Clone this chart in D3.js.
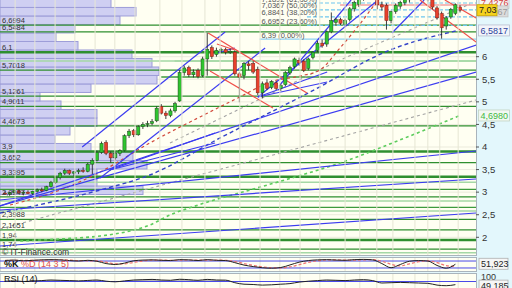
<!DOCTYPE html>
<html>
<head>
<meta charset="utf-8">
<script src="https://cdn.jsdelivr.net/npm/d3@7"></script>
<style>
  body { margin: 0; background: #e3f7fc; }
  svg { display: block; }
  text { font-family: "Liberation Sans", Arial, sans-serif; }
</style>
</head>
<body>
<div id="chart"></div>
<script>
// weekly candles, oldest first
const candleOpen = [2.98,2.96,2.99,3.03,2.98,3.00,2.97,3.02,3.05,3.04,
  3.12,3.22,3.32,3.42,3.48,3.42,3.45,3.48,3.46,3.62,
  3.70,3.88,4.10,3.86,3.76,3.86,3.92,4.25,4.36,4.27,
  4.45,4.50,4.52,4.58,4.90,4.75,4.70,4.80,5.02,5.65,
  5.76,5.60,5.70,5.58,5.95,6.20,6.05,6.14,6.16,6.10,
  6.10,5.62,5.58,5.84,5.85,5.72,5.20,5.42,5.32,5.42,
  5.30,5.38,5.64,5.78,5.92,5.90,5.74,5.98,6.14,6.30,
  6.28,6.55,6.76,6.82,6.72,6.82,7.06,7.16,7.28,7.38,
  7.46,7.30,7.15,7.14,6.80,7.00,7.12,7.20,7.26,7.32,
  7.42,7.36,7.32,7.26,7.08,6.96,6.68,6.88,6.96,7.10];
const candleHigh = [3.02,3.00,3.05,3.06,3.02,3.04,3.03,3.08,3.10,3.14,
  3.25,3.35,3.45,3.52,3.50,3.47,3.52,3.55,3.65,3.75,
  3.92,4.12,4.15,3.90,3.90,3.95,4.28,4.40,4.40,4.48,
  4.55,4.58,4.62,4.90,4.95,4.80,4.85,5.00,5.70,5.80,
  5.80,5.72,5.74,6.00,6.53,6.25,6.20,6.20,6.20,6.18,
  6.14,5.66,5.88,5.90,5.90,5.78,5.45,5.50,5.48,5.46,
  5.40,5.68,5.80,5.98,5.98,5.94,5.98,6.12,6.35,6.38,
  6.58,6.98,6.86,6.86,6.84,7.10,7.24,7.30,7.42,7.52,
  7.50,7.34,7.22,7.18,7.02,7.18,7.24,7.34,7.40,7.50,
  7.48,7.42,7.38,7.30,7.12,7.00,6.90,7.08,7.18,7.14];
const candleLow = [2.94,2.92,2.95,2.97,2.93,2.96,2.94,2.99,3.00,3.02,
  3.10,3.18,3.28,3.38,3.38,3.36,3.40,3.43,3.44,3.40,
  3.68,3.85,3.82,3.65,3.72,3.80,3.90,4.20,4.22,4.25,
  4.40,4.44,4.48,4.55,4.72,4.62,4.66,4.76,5.00,5.58,
  5.55,5.54,5.52,5.55,5.58,5.95,6.00,6.08,6.05,6.06,
  5.58,4.99,5.50,5.70,5.62,5.15,5.08,5.26,5.28,5.26,
  5.24,5.35,5.60,5.74,5.80,5.66,5.70,5.94,6.10,6.20,
  6.22,6.52,6.70,6.70,6.68,6.78,7.00,7.10,7.24,7.30,
  7.30,7.05,7.02,6.60,6.74,6.95,7.06,7.14,7.20,7.26,
  7.30,7.28,7.22,7.05,6.82,6.40,6.60,6.84,6.92,6.98];
const candleClose = [2.96,2.99,3.03,2.98,3.00,2.97,3.02,3.05,3.04,3.12,
  3.22,3.32,3.42,3.48,3.42,3.45,3.48,3.46,3.62,3.70,
  3.88,4.08,3.86,3.76,3.86,3.92,4.25,4.35,4.27,4.45,
  4.50,4.52,4.56,4.86,4.75,4.70,4.80,4.96,5.65,5.75,
  5.60,5.66,5.56,5.95,6.16,6.00,6.14,6.16,6.10,6.12,
  5.62,5.55,5.85,5.80,5.66,5.20,5.40,5.30,5.45,5.30,
  5.36,5.65,5.76,5.95,5.86,5.70,5.95,6.10,6.30,6.24,
  6.55,6.80,6.82,6.74,6.80,7.06,7.20,7.26,7.38,7.46,
  7.34,7.15,7.10,6.80,7.00,7.14,7.20,7.30,7.36,7.44,
  7.36,7.32,7.26,7.10,6.86,6.64,6.86,7.05,7.15,7.03];

// volume-at-price profile, bins from the bottom up
const vpEdges = [2.948,3.136,3.325,3.513,3.701,3.890,4.078,4.266,4.454,4.643,4.831,5.019,
  5.208,5.396,5.584,5.772,5.961,6.149,6.337,6.526,6.714,6.902,7.091,7.279];
const vpVolume = [143,97,97,147,133,91,55,70,97,97,61,40,91,157,159,152,132,78,56,75,120,136,111];

// support / resistance levels
const levelPrices = [6.6994,6.5484,6.1,5.7018,5.1261,4.9011,4.4673,3.9,3.652,3.3395,2.8947,2.3988,2.1651,1.94,1.74];
const levelThick = [6.1,3.9,3.3395,1.94];
const lightLevels = [5.905,3.218,2.804,2.582,1.659];
const midLevels = [3.063,2.664];
const partialLevels = [[34.0,5.550],[36.9,5.905]]; // [start index, price]

// fibonacci retracement
const fibLevels = [6.39,6.6952,6.8841,7.0367,7.1892];
const fibPct = ["0,00%","23,60%","38,20%","50,00%","61,80%"];

// trend lines [i0, p0, i1, p1]
const blueLines = [
  [-1.1,2.826,102.5,3.912],[-1.1,2.605,102.5,3.291],[-1.1,1.807,102.5,2.538],
  [-1.1,2.693,102.5,5.661],[-1.1,2.693,102.5,6.259],
  [16.8,4.000,47.9,6.547],[20.7,3.314,56.6,6.193],
  [59.8,5.373,75.3,7.256],[55.0,5.108,81.2,7.256],
  [55.0,5.108,70.1,5.661],[55.0,5.108,70.1,5.440],
  [84.2,6.525,91.2,7.256],
  [22.8,3.491,45.7,4.310],[22.8,3.491,45.7,4.089],
  [46.1,6.082,50.0,6.193]];
const redLines = [
  [44.2,6.525,65.7,5.196],[44.6,5.683,58.3,4.864],[46.1,6.281,50.0,6.149],
  [90.3,7.256,102.5,6.326],[95.7,7.256,102.5,6.857]];
const pinkLine = [72.9,7.145,102.5,7.145];

// moving averages / dashed guides [index, price]
const maGreen = [[3.3,1.918],[12.0,1.963],[20.7,2.029],[27.2,2.140],[31.5,2.273],[35.9,2.494],
  [42.4,2.727],[53.3,3.048],[64.2,3.369],[72.9,3.646],[85.9,4.155],[99,4.698]];
const maRed = [[1.1,2.716],[12.0,3.048],[20.7,3.446],[31.5,4.089],[42.4,4.665],[51.1,5.108],
  [57.7,5.440],[64.2,5.573],[68.5,5.706],[72.9,6.193],[77.9,6.813],[81.2,7.256],[82.7,7.433],[90.3,7.477],[99,7.4276]];
const maBlue = [[-1.1,2.538],[20.7,3.048],[31.5,3.380],[46.8,4.200],[66.4,5.218],[83.8,6.149],[98.6,6.5817]];
const grayGuides = [
  [[-1.1,2.184],[102.5,5.041]],
  [[35.9,4.089],[72.9,5.927],[94.6,6.879],[101.2,7.167]]];

// oscillators, one value every second candle
const stochK = [85,88,82,86,90,92,90,84,80,86,78,58,50,62,82,88,90,86,84,92,90,84,92,86,84,
  66,45,32,22,18,24,46,70,84,90,92,88,86,92,94,90,58,22,50,78,84,80,42,18,52];
const stochD = [84,86,85,85,87,90,91,88,83,82,81,70,56,56,68,80,88,88,86,87,89,88,88,88,86,
  76,58,42,30,22,20,30,48,68,82,89,90,88,88,90,92,78,52,38,56,74,82,66,40,34];
const rsi = [72,74,70,73,76,80,78,76,74,77,80,72,68,74,80,82,84,80,78,85,82,78,84,80,79,
  62,52,50,46,48,52,56,66,72,76,80,78,76,80,82,76,60,62,64,62,60,58,46,42,49];

const yTicks = [2,2.5,3,3.5,4,4.5,5,5.5,6];
const gridIdx = [2.2,6.5,10.9,15.2,19.6,23.9,28.3,33.7,38.5,43.5,46.8,51.1,55.5,59.8,64.2,68.5,74.0,77.2,80.9,84.4,89.2,92.0,94.6,98.6];

const lastClose = 7.03, lastStoch = 51.923, lastRsi = 49.185, redTag = 7.4276;

const W = 512, H = 288, plotR = 476, mainB = 255;
const fmt = v => String(v).replace('.', ',');

const x = d3.scaleLinear().domain([0, 99]).range([5, 460]);
const y = d3.scaleLinear().domain([2, 6]).range([237.3, 56.7]);
const xv = d3.scaleLinear().domain([0, d3.max(vpVolume)]).range([0, 159]);
const ys = d3.scaleLinear().domain([0, 100]).range([270.3, 258.7]);
const yr = d3.scaleLinear().domain([0, 100]).range([292, 277]);

const svg = d3.select('#chart').append('svg').attr('width', W).attr('height', H);

svg.append('defs').append('clipPath').attr('id', 'mainClip')
  .append('rect').attr('x', 0).attr('y', 0).attr('width', plotR).attr('height', mainB);

// panels
svg.append('rect').attr('x', 0).attr('y', -1).attr('width', plotR + 0.5).attr('height', mainB + 1.5)
  .attr('fill', '#fffff2').attr('stroke', '#a9b4bc');
svg.append('rect').attr('x', 0).attr('y', 257.5).attr('width', plotR + 0.5).attr('height', 14)
  .attr('fill', '#fffff2').attr('stroke', '#a9b4bc');
svg.append('rect').attr('x', 0).attr('y', 273.5).attr('width', plotR + 0.5).attr('height', 30)
  .attr('fill', '#fffff2').attr('stroke', '#a9b4bc');

const main = svg.append('g').attr('clip-path', 'url(#mainClip)');

// grid
main.append('g').selectAll('line').data(yTicks).join('line')
  .attr('x1', 0).attr('x2', plotR).attr('y1', d => y(d)).attr('y2', d => y(d))
  .attr('stroke', '#ebebdc').attr('stroke-width', 1);
[[0, mainB], [258, 271], [274, 288]].forEach(([a, b]) => {
  svg.append('g').selectAll('line').data(gridIdx).join('line')
    .attr('x1', d => x(d)).attr('x2', d => x(d)).attr('y1', a).attr('y2', b)
    .attr('stroke', '#e6e6d4').attr('stroke-width', 1);
});

// volume profile
main.append('g').selectAll('rect').data(vpVolume).join('rect')
  .attr('x', 0)
  .attr('y', (d, i) => y(vpEdges[i + 1]))
  .attr('width', d => xv(d))
  .attr('height', (d, i) => y(vpEdges[i]) - y(vpEdges[i + 1]))
  .attr('fill', '#cacaf2').attr('fill-opacity', 0.9)
  .attr('stroke', '#9d9dd8').attr('stroke-width', 1);

// horizontal levels
const hline = (g, data, color, width) => g.append('g').selectAll('line').data(data).join('line')
  .attr('x1', 0).attr('x2', plotR).attr('y1', d => y(d)).attr('y2', d => y(d))
  .attr('stroke', color).attr('stroke-width', width);
hline(main, lightLevels, '#a5d8a5', 1.6);
hline(main, midLevels, '#3d9a3d', 1.2);
main.append('g').selectAll('line').data(partialLevels).join('line')
  .attr('x1', d => x(d[0])).attr('x2', plotR).attr('y1', d => y(d[1])).attr('y2', d => y(d[1]))
  .attr('stroke', (d, i) => i === 0 ? '#3d9a3d' : '#a5d8a5').attr('stroke-width', 1.3);
main.append('g').selectAll('line').data(levelPrices).join('line')
  .attr('x1', 0).attr('x2', plotR).attr('y1', d => y(d)).attr('y2', d => y(d))
  .attr('stroke', '#2f8f2f')
  .attr('stroke-width', d => levelThick.includes(d) ? 2.4 : 1.3);

// fibonacci lines
main.append('g').selectAll('line').data(fibLevels).join('line')
  .attr('x1', (d, i) => i === 0 ? x(55.4) : x(65.7)).attr('x2', plotR)
  .attr('y1', d => y(d)).attr('y2', d => y(d))
  .attr('stroke', (d, i) => i === 0 ? '#8fd0f2' : '#6cc6ee')
  .attr('stroke-width', 1.2)
  .attr('stroke-dasharray', (d, i) => i === 0 ? null : '4,2');
main.append('line')
  .attr('x1', x(pinkLine[0])).attr('x2', x(pinkLine[2]))
  .attr('y1', y(pinkLine[1])).attr('y2', y(pinkLine[3]))
  .attr('stroke', '#f4a2a2').attr('stroke-width', 1.6);

// dashed guides
const line = d3.line().x(d => x(d[0])).y(d => y(d[1]));
const curve = d3.line().x(d => x(d[0])).y(d => y(d[1])).curve(d3.curveMonotoneX);
grayGuides.forEach(g => main.append('path').attr('d', line(g)).attr('fill', 'none')
  .attr('stroke', '#a3a3a3').attr('stroke-width', 1.1).attr('stroke-dasharray', '3,3'));
main.append('path').attr('d', curve(maGreen)).attr('fill', 'none')
  .attr('stroke', '#5ccc5c').attr('stroke-width', 1.6).attr('stroke-dasharray', '3,3');
main.append('path').attr('d', curve(maRed)).attr('fill', 'none')
  .attr('stroke', '#d24a3c').attr('stroke-width', 1.2).attr('stroke-dasharray', '3,3');
main.append('path').attr('d', curve(maBlue)).attr('fill', 'none')
  .attr('stroke', '#3343c8').attr('stroke-width', 1.4).attr('stroke-dasharray', '4,3');

// trend lines
const seg = (g, data, color, w) => g.append('g').selectAll('line').data(data).join('line')
  .attr('x1', d => x(d[0])).attr('y1', d => y(d[1]))
  .attr('x2', d => x(d[2])).attr('y2', d => y(d[3]))
  .attr('stroke', color).attr('stroke-width', w);
seg(main, blueLines, '#3c3cf0', 1.2);
seg(main, redLines, '#f0504a', 1.2);

// candles
const candles = d3.range(candleClose.length);
const cg = main.append('g');
cg.selectAll('line').data(candles).join('line')
  .attr('x1', i => x(i)).attr('x2', i => x(i))
  .attr('y1', i => y(candleHigh[i])).attr('y2', i => y(candleLow[i]))
  .attr('stroke', '#2a2a2a').attr('stroke-width', 0.9);
cg.selectAll('rect').data(candles).join('rect')
  .attr('x', i => x(i) - 1.6).attr('width', 3.2)
  .attr('y', i => y(Math.max(candleOpen[i], candleClose[i])))
  .attr('height', i => Math.max(1, Math.abs(y(candleOpen[i]) - y(candleClose[i]))))
  .attr('fill', i => candleClose[i] >= candleOpen[i] ? '#2fc42f' : '#e8402c')
  .attr('stroke', i => candleClose[i] >= candleOpen[i] ? '#1c4a1c' : '#7a2016')
  .attr('stroke-width', 0.5);

// level labels
main.append('g').selectAll('text').data(levelPrices).join('text')
  .attr('x', 2).attr('y', d => y(d) - 2.3)
  .attr('font-size', 7.5).attr('fill', '#333').text(d => fmt(d));
main.append('g').selectAll('text').data(fibLevels).join('text')
  .attr('x', x(55.8)).attr('y', d => y(d) - 1.5)
  .attr('font-size', 7.5).attr('fill', '#555')
  .text((d, i) => `${fmt(d)} (${fibPct[i]})`);

svg.append('text').attr('x', 2).attr('y', 254.5).attr('font-size', 8.5).attr('fill', '#333')
  .text('© IT-Finance.com');

// right axis
const ax = svg.append('g');
ax.selectAll('line').data(yTicks).join('line')
  .attr('x1', plotR).attr('x2', plotR + 3).attr('y1', d => y(d)).attr('y2', d => y(d))
  .attr('stroke', '#555');
ax.selectAll('text').data(yTicks).join('text')
  .attr('x', plotR + 6).attr('y', d => y(d)).attr('dy', '0.35em')
  .attr('font-size', 9.5).attr('fill', '#333').text(d => fmt(d));

const tag = (yc, label, bg, fg, border, w, x0) => {
  const g = svg.append('g');
  g.append('rect').attr('x', x0).attr('y', yc - 5.5).attr('width', w).attr('height', 11)
    .attr('fill', bg).attr('stroke', border).attr('stroke-width', 0.8);
  g.append('text').attr('x', x0 + 2).attr('y', yc).attr('dy', '0.36em')
    .attr('font-size', 9).attr('fill', fg).text(label);
};
tag(Math.max(y(redTag), 3), fmt(redTag), '#f4f4f4', '#d63a3a', '#c8c8c8', 30, 479);
tag(y(fibLevels[3]) + 1.5, fmt(fibLevels[3]), '#dcdcdc', '#9a9a9a', '#c0c0c0', 30, 478);
tag(y(lastClose), fmt(lastClose), '#f5d21c', '#222', '#c9a800', 20, 477);
tag(y(6.5817), fmt(6.5817), '#f2f4fa', '#2d3f9c', '#b8bfd0', 31, 478.5);
tag(y(maGreen[maGreen.length - 1][1]), '4,6980', '#f2f8f2', '#43b843', '#c2d4c2', 31, 478.5);

// stochastic panel
const sx = (d, i) => x(i * 2);
svg.append('g').selectAll('line').data([20, 80]).join('line')
  .attr('x1', 0).attr('x2', plotR).attr('y1', d => ys(d)).attr('y2', d => ys(d))
  .attr('stroke', '#4a4ae8').attr('stroke-width', 1);
svg.append('path').attr('d', d3.line().x(sx).y(d => ys(d)).curve(d3.curveMonotoneX)(stochD))
  .attr('fill', 'none').attr('stroke', '#f07070').attr('stroke-width', 1.2).attr('stroke-dasharray', '3,2');
svg.append('path').attr('d', d3.line().x(sx).y(d => ys(d)).curve(d3.curveMonotoneX)(stochK))
  .attr('fill', 'none').attr('stroke', '#222').attr('stroke-width', 1);
const st = svg.append('text').attr('x', 4).attr('y', 266.5).attr('font-size', 9);
st.append('tspan').attr('fill', '#111').attr('font-weight', 'bold').text('%K ');
st.append('tspan').attr('fill', '#e05050').text('%D (14 3 5)');
tag(ys(lastStoch) - 0.5, fmt(lastStoch), '#f6f6f6', '#222', '#b0b0b0', 29, 479);

// RSI panel
svg.append('path')
  .attr('d', d3.area().x(sx).y0(yr(70)).y1(d => yr(Math.max(d, 70))).curve(d3.curveMonotoneX)(rsi))
  .attr('fill', '#9a9a9a').attr('fill-opacity', 0.7);
svg.append('line').attr('x1', 0).attr('x2', plotR).attr('y1', yr(70)).attr('y2', yr(70))
  .attr('stroke', '#4a4ae8').attr('stroke-width', 1);
svg.append('path').attr('d', d3.line().x(sx).y(d => yr(d)).curve(d3.curveMonotoneX)(rsi))
  .attr('fill', 'none').attr('stroke', '#222').attr('stroke-width', 1);
svg.append('text').attr('x', 4).attr('y', 282).attr('font-size', 9).attr('fill', '#111').text('RSI (14)');
svg.append('text').attr('x', plotR + 5).attr('y', yr(100)).attr('dy', '0.35em')
  .attr('font-size', 9).attr('fill', '#333').text('100');
tag(yr(lastRsi) + 1, fmt(lastRsi), '#f6f6f6', '#222', '#b0b0b0', 29, 479);
</script>
</body>
</html>
